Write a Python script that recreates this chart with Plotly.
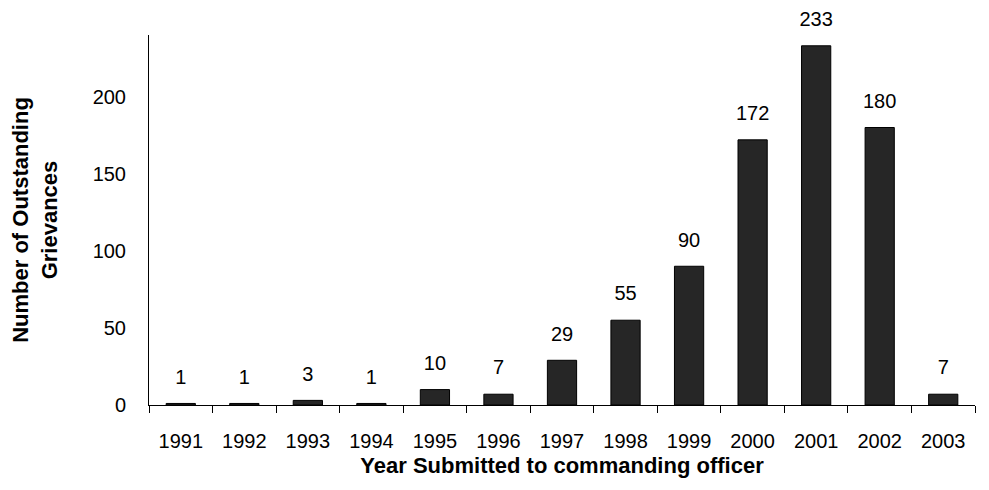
import plotly.graph_objects as go

years = ["1991", "1992", "1993", "1994", "1995", "1996", "1997", "1998", "1999", "2000", "2001", "2002", "2003"]
counts = [1, 1, 3, 1, 10, 7, 29, 55, 90, 172, 233, 180, 7]
y_ticks = [0, 50, 100, 150, 200]

FONT = "Arial, Liberation Sans, sans-serif"

fig = go.Figure()
fig.add_trace(go.Bar(
    x=years, y=counts,
    marker=dict(color="#262626", line=dict(color="black", width=1)),
    width=0.46, hoverinfo="x+y",
))
fig.add_trace(go.Scatter(
    x=years, y=counts, mode="markers+text",
    text=[str(v) for v in counts], textposition="top center",
    textfont=dict(family=FONT, size=20, color="black"),
    marker=dict(size=22, color="rgba(0,0,0,0)"),
    cliponaxis=False, hoverinfo="skip",
))

fig.update_layout(
    width=989, height=490,
    margin=dict(l=141, r=22, t=27, b=93),
    paper_bgcolor="white", plot_bgcolor="white",
    font=dict(family=FONT, color="black"),
    showlegend=False,
)
fig.update_xaxes(
    type="category", range=[-0.5, len(years) - 0.5],
    showline=True, linecolor="black", linewidth=1,
    ticks="outside", ticklen=7, tickcolor="black", tickson="boundaries",
    tickfont=dict(size=20), ticklabelstandoff=18, automargin=False,
    title=dict(text="<b>Year Submitted to commanding officer</b>", font=dict(size=22), standoff=6),
    showgrid=False,
)
fig.update_yaxes(
    range=[0, 240], tickvals=y_ticks, showline=True, linecolor="black", linewidth=1,
    ticks="", tickfont=dict(size=20), ticklabelstandoff=18, showgrid=False, zeroline=False,
    automargin=False,
    title=dict(text="<b>Number of Outstanding<br>Grievances</b>", font=dict(size=22), standoff=30),
)

fig.write_html("out.html")
